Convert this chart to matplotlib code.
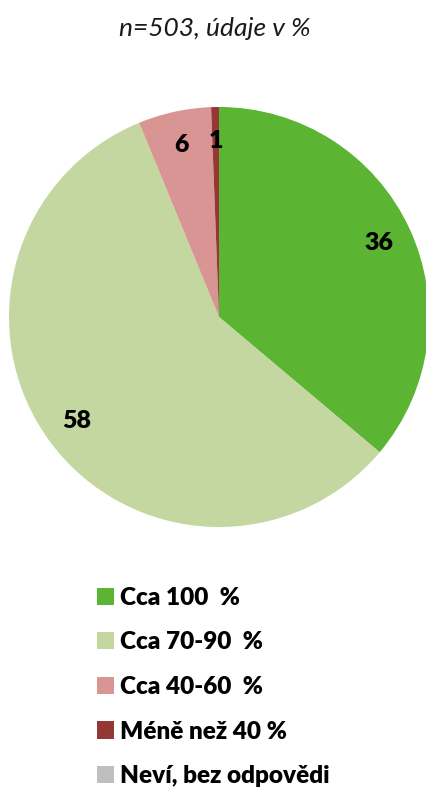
import matplotlib
matplotlib.use("Agg")
import matplotlib.pyplot as plt
import numpy as np

categories = ["Cca 100  %", "Cca 70-90  %", "Cca 40-60  %", "Méně než 40 %", "Neví, bez odpovědi"]
values = [36.1, 57.6, 5.6, 0.6, 0.0]
labels = ["36", "58", "6", "1", ""]
colors = ["#5BB432", "#C4D7A0", "#D99594", "#953735", "#BFBFBF"]
title = "n=503, údaje v %"

plt.rcParams['font.family'] = ['Lato', 'DejaVu Sans']

fig = plt.figure(figsize=(4.27, 7.89), dpi=100)
ax = fig.add_axes([9/427, 1 - 527/789, 420/427, 420/789])

wedges, _ = ax.pie(values, colors=colors, startangle=90, counterclock=False,
                   radius=1.0, normalize=True)
total = sum(values)
ang = 90.0
for v, lab in zip(values, labels):
    span = v / total * 360
    mid = np.deg2rad(ang - span / 2)
    ang -= span
    if lab:
        ax.text(0.84 * np.cos(mid), 0.84 * np.sin(mid), lab, ha='center', va='center',
                fontsize=18, fontweight='heavy', color='black')
ax.set_xlim(-1, 1)
ax.set_ylim(-1, 1)
ax.set_aspect('equal')

fig.text(215/427, 1 - 28/789, title, ha='center', va='center', fontsize=19,
         style='italic', color='#1a1a1a')

leg = fig.legend(wedges, categories, loc='upper left', bbox_to_anchor=(87/427, 1 - 577/789),
                 frameon=False, fontsize=17.5, handlelength=0.72, handleheight=0.72,
                 handletextpad=0.22, labelspacing=0.93, borderaxespad=0)
for t in leg.get_texts():
    t.set_fontweight('heavy')

fig.savefig("out.png", dpi=100)
